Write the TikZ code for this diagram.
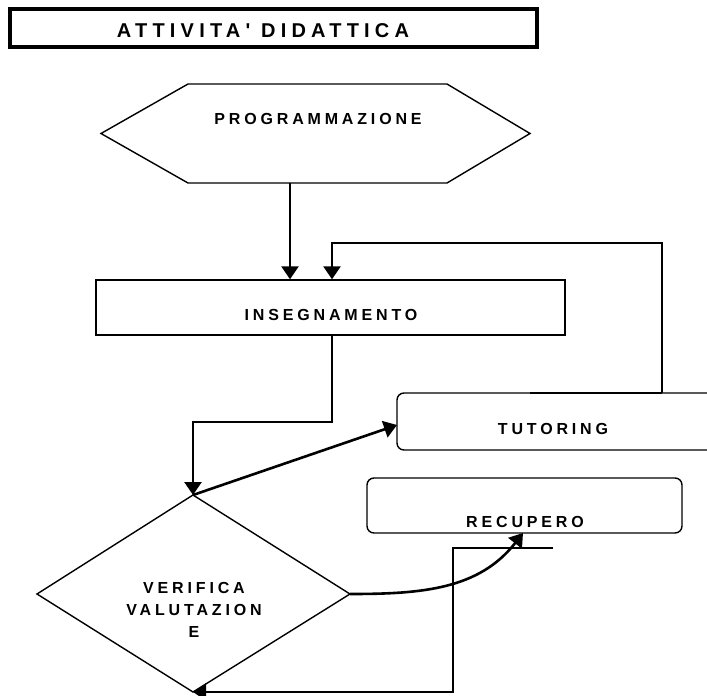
\documentclass[tikz,border=0pt]{standalone}
\usepackage{fontspec}
\setmainfont{Liberation Sans}
\newfontfamily\lblfont[LetterSpace=24]{Liberation Sans Bold}
\newfontfamily\ttlfont[LetterSpace=26]{Liberation Sans Bold}
\usetikzlibrary{arrows.meta}
\begin{document}
\begin{tikzpicture}[x=1pt,y=-1pt,
  lbl/.style={font=\lblfont\fontsize{16}{22}\selectfont, inner sep=0pt, anchor=base, align=center},
  ttl/.style={font=\ttlfont\fontsize{20}{22}\selectfont, inner sep=0pt, anchor=base},
  titlebox/.style={draw, line width=4.5pt, minimum width=527pt, minimum height=38pt, inner sep=0pt},
  plainbox/.style={draw, line width=1.4pt, inner sep=0pt},
  roundbox/.style={draw, line width=1.4pt, rounded corners=7pt, inner sep=0pt},
  outline/.style={line width=1.4pt, line join=miter},
  conn/.style={line width=2.6pt},
  arr/.style={line width=2.6pt, -{Triangle[length=13pt,width=17pt]}}
]
\useasboundingbox (0,0) rectangle (707,696);

% title
\node[titlebox] (title) at (273.5,28) {};
\node[ttl] (titlet) at (263,37) {ATTIVITA' DIDATTICA};

% hexagon
\coordinate (hA) at (101,133.5);
\coordinate (hB) at (188,84);
\coordinate (hC) at (447,84);
\coordinate (hD) at (530,133.5);
\coordinate (hE) at (447,183);
\coordinate (hF) at (188,183);
\draw[outline] (hA) -- (hB) -- (hC) -- (hD) -- (hE) -- (hF) -- cycle;
\node[lbl] (progt) at (318,124) {PROGRAMMAZIONE};

% insegnamento
\node[plainbox, minimum width=469pt, minimum height=55pt] (ins) at (330.5,307.5) {};
\node[lbl] (inst) at (331,320) {INSEGNAMENTO};

% tutoring (extends past right edge)
\node[roundbox, minimum width=380pt, minimum height=57pt] (tut) at (587,421.5) {};
\node[lbl] (tutt) at (553,434) {TUTORING};

% recupero
\node[roundbox, minimum width=315pt, minimum height=55pt] (rec) at (524.5,505.5) {};
\node[lbl] (rect) at (525,527) {RECUPERO};

% diamond
\coordinate (vtop) at (193,495);
\coordinate (vright) at (350,594);
\coordinate (vbot) at (193,692);
\coordinate (vleft) at (37,594);
\draw[outline] (vtop) -- (vright) -- (vbot) -- (vleft) -- cycle;
\node[lbl, anchor=center] (ver) at (194,610) {VERIFICA\\VALUTAZION\\E};

% connectors
\coordinate (pin) at (290,183);
\draw[arr] (pin) -- (pin |- ins.north);

\coordinate (fbA) at (662,393);
\coordinate (fbB) at (332,243);
\coordinate (tseg) at (530,393);
\draw[conn] (tseg) -- (fbA);
\draw[arr] (fbA) |- (fbB) -- (fbB |- ins.north);

\coordinate (ib) at (332,335);
\coordinate (bend) at (332,422);
\draw[arr] (ib) -- (bend) -| (vtop);

\coordinate (tutin) at (397,425);
\draw[arr] (vtop) -- (tutin);

\coordinate (recin) at (523,533);
\draw[arr] (vright) to[out=0, in=232] (recin);

\coordinate (rA) at (553,548);
\coordinate (rB) at (453,548);
\draw[arr] (rA) -- (rB) |- (vbot);
\end{tikzpicture}
\end{document}
